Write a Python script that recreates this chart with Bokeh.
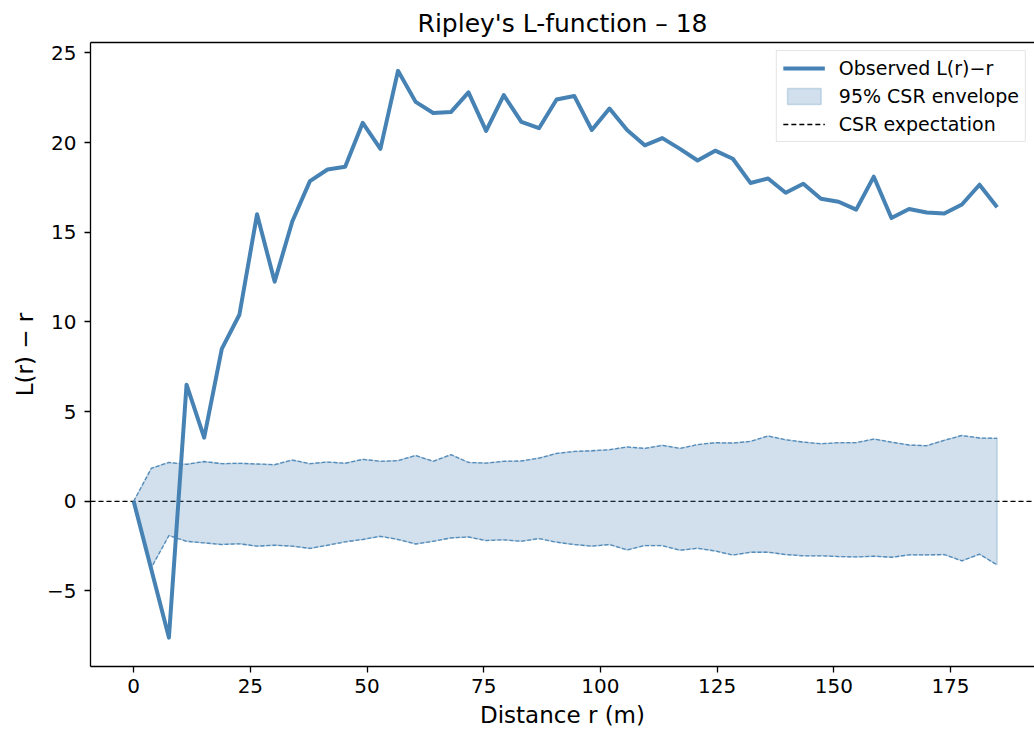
import numpy as np
from bokeh.plotting import figure
from bokeh.models import (Range1d, FixedTicker, Legend, LegendItem,
                          LinearAxis, ColumnDataSource)
from bokeh.embed import file_html
from bokeh.resources import INLINE

# ---------------- data ----------------
r_m = [0.0, 3.78, 7.55, 11.33, 15.10, 18.88, 22.65, 26.43, 30.20, 33.98,
       37.76, 41.53, 45.31, 49.08, 52.86, 56.63, 60.41, 64.18, 67.96, 71.73,
       75.51, 79.29, 83.06, 86.84, 90.61, 94.39, 98.16, 101.94, 105.71, 109.49,
       113.27, 117.04, 120.82, 124.59, 128.37, 132.14, 135.92, 139.69, 143.47, 147.24,
       151.02, 154.80, 158.57, 162.35, 166.12, 169.90, 173.67, 177.45, 181.22, 185.0]

observed = [0.0, -3.8, -7.6, 6.5, 3.55, 8.5, 10.4, 16.0, 12.25, 15.6,
            17.85, 18.5, 18.65, 21.1, 19.65, 24.0, 22.27, 21.65, 21.7, 22.8,
            20.65, 22.65, 21.15, 20.8, 22.4, 22.6, 20.7, 21.9, 20.7, 19.85,
            20.25, 19.65, 19.0, 19.55, 19.1, 17.75, 18.0, 17.2, 17.7, 16.87,
            16.7, 16.26, 18.1, 15.8, 16.3, 16.1, 16.05, 16.55, 17.65, 16.4]

env_hi = [0.0, 1.84, 2.17, 2.06, 2.22, 2.1, 2.12, 2.08, 2.04, 2.3,
          2.1, 2.19, 2.12, 2.34, 2.23, 2.27, 2.55, 2.23, 2.6, 2.17,
          2.13, 2.23, 2.25, 2.41, 2.67, 2.78, 2.82, 2.88, 3.03, 2.95,
          3.12, 2.95, 3.16, 3.27, 3.25, 3.34, 3.64, 3.43, 3.3, 3.21,
          3.27, 3.27, 3.47, 3.3, 3.14, 3.1, 3.4, 3.67, 3.53, 3.51]

env_lo = [0.0, -3.7, -1.91, -2.23, -2.32, -2.41, -2.37, -2.5, -2.45, -2.5,
          -2.63, -2.45, -2.26, -2.13, -1.95, -2.13, -2.38, -2.23, -2.04, -1.99,
          -2.19, -2.15, -2.23, -2.08, -2.28, -2.41, -2.5, -2.41, -2.71, -2.47,
          -2.47, -2.73, -2.62, -2.77, -3.0, -2.84, -2.84, -2.97, -3.04, -3.04,
          -3.08, -3.1, -3.06, -3.12, -2.99, -2.99, -2.97, -3.32, -2.95, -3.55]

csr_expectation = 0.0

x_ticks = [0, 25, 50, 75, 100, 125, 150, 175]
y_ticks = [-5, 0, 5, 10, 15, 20, 25]

title_text = "Ripley's L-function \u2013 18"
x_label = "Distance r (m)"
y_label = "L(r) \u2212 r"
labels = ["Observed L(r)\u2212r", "95% CSR envelope", "CSR expectation"]

# ---------------- figure ----------------
FONT = "DejaVu Sans"
BLUE = "steelblue"

xr = Range1d(-9.25, 193.0)
yr = Range1d(-9.21, 25.58)

p = figure(frame_width=944, frame_height=624,
           output_backend="svg", toolbar_location=None,
           x_range=xr, y_range=yr,
           min_border_left=90, min_border_right=0, min_border_top=42,
           min_border_bottom=70)

src = ColumnDataSource(dict(r=r_m, obs=observed, hi=env_hi, lo=env_lo))

# envelope polygon (upper edge forward, lower edge backward)
env = p.patch(x=r_m + r_m[::-1], y=env_hi + env_lo[::-1],
              fill_color=BLUE, fill_alpha=0.25,
              line_color=BLUE, line_alpha=0.25, line_width=1.5)

# CSR expectation across the whole frame (under everything else)
csr = p.line(x=[xr.start, xr.end], y=[csr_expectation, csr_expectation],
             line_color="black", line_dash="5 3", line_width=1.3,
             level="underlay")

p.line("r", "hi", source=src, line_color=BLUE, line_width=1.3,
       line_dash="4 2", line_alpha=0.9)
p.line("r", "lo", source=src, line_color=BLUE, line_width=1.3,
       line_dash="4 2", line_alpha=0.9)
obs = p.line("r", "obs", source=src, line_color=BLUE, line_width=4,
             line_join="round")

legend = Legend(items=[LegendItem(label=labels[0], renderers=[obs]),
                       LegendItem(label=labels[1], renderers=[env]),
                       LegendItem(label=labels[2], renderers=[csr])],
                location="top_right",
                label_text_font=FONT, label_text_font_size="19px",
                label_text_color="black",
                glyph_width=42, glyph_height=20, label_height=20,
                spacing=6, padding=6, margin=8, label_standoff=14,
                border_line_color="#cccccc", border_line_width=1,
                background_fill_color="white", background_fill_alpha=0.8)
p.add_layout(legend)

# ---------------- axes ----------------
p.xaxis.ticker = FixedTicker(ticks=x_ticks)
p.yaxis.ticker = FixedTicker(ticks=y_ticks)
p.yaxis.major_label_overrides = {t: str(t).replace("-", "\u2212") for t in y_ticks}
p.xaxis.axis_label = x_label
p.yaxis.axis_label = y_label

for ax in (p.xaxis, p.yaxis):
    ax.axis_line_color = "black"
    ax.axis_line_width = 1.3
    ax.major_tick_line_color = "black"
    ax.major_tick_line_width = 1.3
    ax.major_tick_out = 6
    ax.major_tick_in = 0
    ax.minor_tick_line_color = None
    ax.major_label_text_font = FONT
    ax.major_label_text_font_size = "20px"
    ax.major_label_text_color = "black"
    ax.major_label_standoff = 6
    ax.axis_label_text_font = FONT
    ax.axis_label_text_font_size = "23px"
    ax.axis_label_text_font_style = "normal"
    ax.axis_label_text_color = "black"
    ax.axis_label_standoff = 6

p.yaxis.major_label_standoff = 8

top = LinearAxis(ticker=FixedTicker(ticks=[]), major_label_text_font_size="0px",
                 major_tick_line_color=None, minor_tick_line_color=None,
                 axis_line_color="black", axis_line_width=1.3)
p.add_layout(top, "above")

p.xgrid.visible = False
p.ygrid.visible = False
p.outline_line_color = None

p.title.text = title_text
p.title.text_font = FONT
p.title.text_font_size = "25px"
p.title.text_font_style = "normal"
p.title.text_color = "black"
p.title.align = "center"

open("out.html", "w").write(file_html(p, INLINE))
